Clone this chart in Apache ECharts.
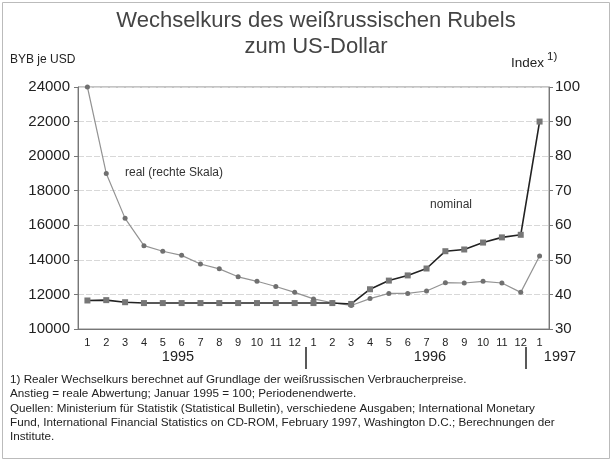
<!DOCTYPE html>
<html>
<head>
<meta charset="utf-8">
<script src="https://cdn.jsdelivr.net/npm/echarts@6/dist/echarts.min.js"></script>
<style>
  html, body { margin: 0; padding: 0; background: #fff; }
  #main { width: 612px; height: 462px; }
</style>
</head>
<body>
<div id="main"></div>
<script>
// Monate Jan 1995 .. Jan 1997
const months = ['1', '2', '3', '4', '5', '6', '7', '8', '9', '10', '11', '12',
	'1', '2', '3', '4', '5', '6', '7', '8', '9', '10', '11', '12', '1'];
// BYB je USD (linke Skala)
const nominal = [11650, 11670, 11550, 11500, 11500, 11500, 11500, 11500, 11500, 11500, 11500, 11500,
	11500, 11500, 11450, 12300, 12800, 13100, 13500, 14500, 14600, 15000, 15300, 15450, 22000];
// Index Januar 1995 = 100 (rechte Skala)
const real = [100, 75, 62, 54.1, 52.5, 51.3, 48.8, 47.4, 45.1, 43.8, 42.3, 40.6,
	38.7, 37.6, 36.8, 38.8, 40.3, 40.3, 41.0, 43.4, 43.3, 43.8, 43.3, 40.6, 51.1];
const years = ['1995', '1996', '1997'];
const footnotes = [
	'1) Realer Wechselkurs berechnet auf Grundlage der weißrussischen Verbraucherpreise.',
	'Anstieg = reale Abwertung; Januar 1995 = 100; Periodenendwerte.',
	'Quellen: Ministerium für Statistik (Statistical Bulletin), verschiedene Ausgaben; International Monetary',
	'Fund, International Financial Statistics on CD-ROM, February 1997, Washington D.C.; Berechnungen der',
	'Institute.'
];

const font = '"Liberation Sans", Arial, sans-serif';
const chart = echarts.init(document.getElementById('main'));

const footGraphics = footnotes.map((t, i) => ({
	type: 'text',
	left: 10,
	top: 374 + i * 14.2,
	style: { text: t, font: '11.7px ' + font, fill: '#222' }
}));

chart.setOption({
	backgroundColor: '#fff',
	animation: false,
	grid: {
		left: 78, right: 63, top: 87, bottom: 133,
		show: true, borderColor: '#888', borderWidth: 1
	},
	xAxis: {
		type: 'category',
		data: months,
		boundaryGap: true,
		axisLine: { lineStyle: { color: '#777' } },
		axisTick: { alignWithLabel: true, length: 4, lineStyle: { color: '#777' } },
		axisLabel: { fontFamily: font, fontSize: 11, color: '#222', margin: 8, interval: 0 }
	},
	yAxis: [
		{
			type: 'value',
			min: 10000, max: 24000, interval: 2000,
			axisLine: { show: true, lineStyle: { color: '#777' } },
			axisTick: { show: true, length: 4, lineStyle: { color: '#777' } },
			axisLabel: { fontFamily: font, fontSize: 15, color: '#222', margin: 8, formatter: (v) => String(v) },
			splitLine: { lineStyle: { color: '#d8d8d8', type: [6, 2] } }
		},
		{
			type: 'value',
			position: 'right',
			min: 30, max: 100, interval: 10,
			axisLine: { show: true, lineStyle: { color: '#777' } },
			axisTick: { show: true, length: 4, lineStyle: { color: '#777' } },
			axisLabel: { fontFamily: font, fontSize: 15, color: '#222', margin: 6 },
			splitLine: { show: false }
		}
	],
	series: [
		{
			name: 'nominal',
			type: 'line',
			yAxisIndex: 0,
			data: nominal,
			symbol: 'rect',
			symbolSize: 6,
			lineStyle: { color: '#222', width: 1.6 },
			itemStyle: { color: '#777' },
			z: 3
		},
		{
			name: 'real',
			type: 'line',
			yAxisIndex: 1,
			data: real,
			symbol: 'circle',
			symbolSize: 5,
			lineStyle: { color: '#939393', width: 1.2 },
			itemStyle: { color: '#707070' },
			z: 2
		}
	],
	graphic: [
		{ type: 'text', x: 316, y: 10, style: { text: 'Wechselkurs des weißrussischen Rubels', font: '22px ' + font, fill: '#444', textAlign: 'center' } },
		{ type: 'text', x: 316, y: 36, style: { text: 'zum US-Dollar', font: '22px ' + font, fill: '#444', textAlign: 'center' } },
		{ type: 'text', x: 10, y: 54, style: { text: 'BYB je USD', font: '12px ' + font, fill: '#222' } },
		{ type: 'text', x: 511, y: 56, style: { text: 'Index', font: '13.5px ' + font, fill: '#222' } },
		{ type: 'text', x: 547, y: 51, style: { text: '1)', font: '11.5px ' + font, fill: '#222' } },
		{ type: 'text', x: 125, y: 167, style: { text: 'real (rechte Skala)', font: '12px ' + font, fill: '#333' } },
		{ type: 'text', x: 430, y: 199, style: { text: 'nominal', font: '12px ' + font, fill: '#333' } },
		{ type: 'text', x: 178, y: 349, style: { text: years[0], font: '14.5px ' + font, fill: '#222', textAlign: 'center' } },
		{ type: 'text', x: 430, y: 349, style: { text: years[1], font: '14.5px ' + font, fill: '#222', textAlign: 'center' } },
		{ type: 'text', x: 560, y: 349, style: { text: years[2], font: '14.5px ' + font, fill: '#222', textAlign: 'center' } },
		{ type: 'line', shape: { x1: 306, y1: 347, x2: 306, y2: 369 }, style: { stroke: '#222', lineWidth: 1.5 } },
		{ type: 'line', shape: { x1: 526, y1: 347, x2: 526, y2: 369 }, style: { stroke: '#222', lineWidth: 1.5 } },
		{ type: 'rect', shape: { x: 2.5, y: 2.5, width: 607, height: 456 }, style: { fill: 'none', stroke: '#bbb', lineWidth: 1 } }
	].concat(footGraphics)
});
</script>
</body>
</html>
